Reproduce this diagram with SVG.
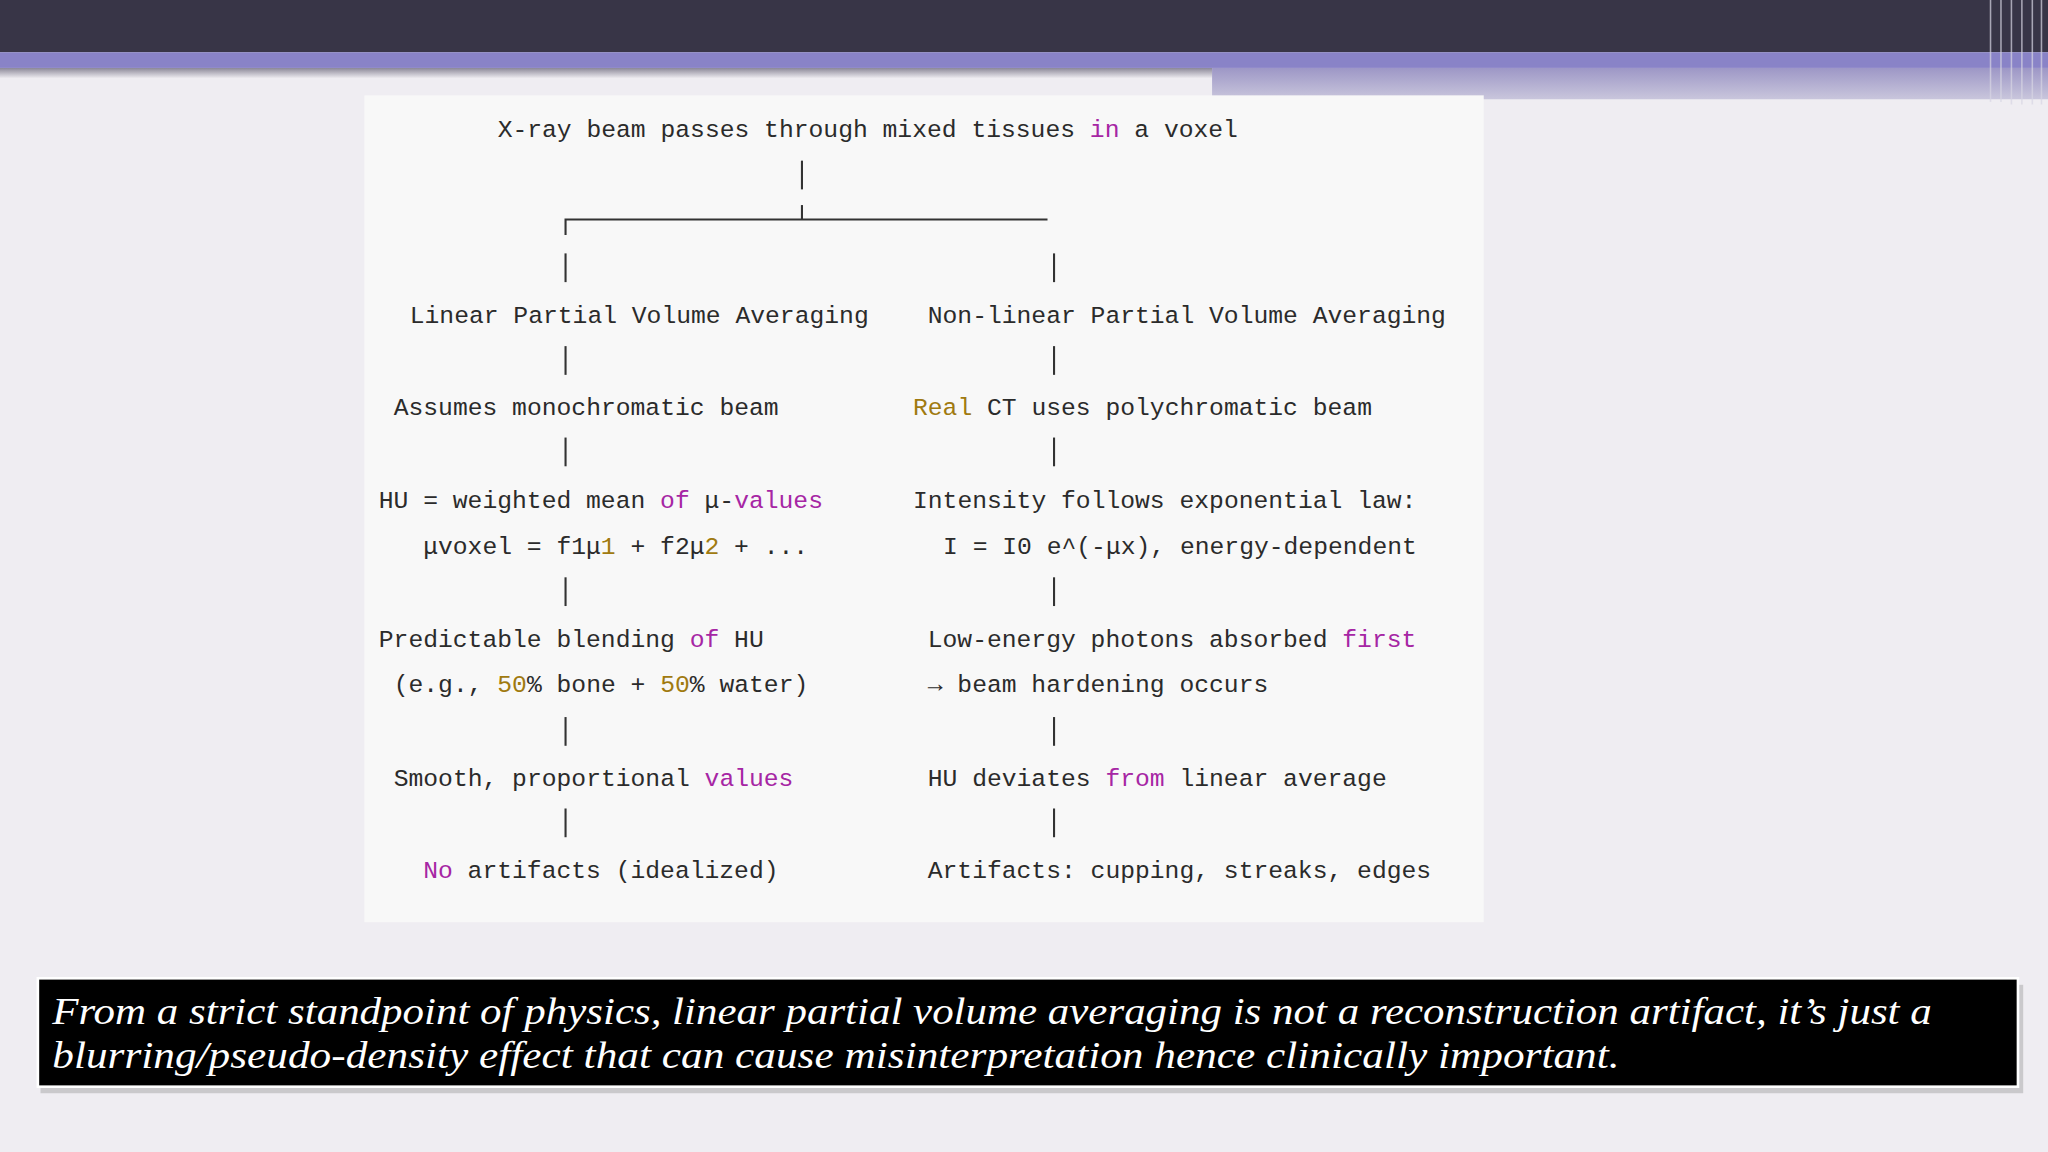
<svg xmlns="http://www.w3.org/2000/svg" width="2048" height="1152" viewBox="0 0 2048 1152">
<defs>
<style>
.m{font-family:"Liberation Mono","DejaVu Sans Mono",monospace;font-size:18.9px;fill:#2b2b2b;white-space:pre}
.p{fill:#a626a4}.g{fill:#a07a10}
.c{stroke:#333;stroke-width:1.6;fill:none}
.cap{font-family:"Liberation Serif",serif;font-style:italic;font-size:29px;fill:#fff}
</style>
<linearGradient id="fade" x1="0" y1="0" x2="0" y2="1"><stop offset="0" stop-color="#9d97c6"/><stop offset="1" stop-color="#c9c6dc"/></linearGradient>
<linearGradient id="sh" x1="0" y1="0" x2="0" y2="1"><stop offset="0" stop-color="#8a8797"/><stop offset="1" stop-color="#efedf2"/></linearGradient>
</defs>
<g transform="scale(1.30612)">
<rect width="1568" height="882" fill="#efedf2"/>
<rect width="1568" height="40" fill="#383547"/>
<rect x="0" y="52" width="928" height="8" fill="url(#sh)"/>
<rect x="928" y="52" width="640" height="24" fill="url(#fade)"/>
<rect x="0" y="40" width="1568" height="12" fill="#8983c7"/>
<g stroke="#d8d6e4" stroke-width="1.2" opacity="0.7">
<line x1="1524" y1="0" x2="1524" y2="78"/><line x1="1532" y1="0" x2="1532" y2="78"/><line x1="1540" y1="0" x2="1540" y2="80"/><line x1="1548" y1="0" x2="1548" y2="80"/><line x1="1556" y1="0" x2="1556" y2="80"/><line x1="1563" y1="0" x2="1563" y2="80"/>
</g>
<rect x="279" y="73" width="857" height="633" fill="#f8f8f8"/>
<g id="connectors">
<line class="c" x1="614" y1="123" x2="614" y2="145"/>
<line class="c" x1="614" y1="157" x2="614" y2="168"/>
<path class="c" d="M433 180 V168 H802"/>
<line class="c" x1="433" y1="194" x2="433" y2="216"/>
<line class="c" x1="807" y1="194" x2="807" y2="216"/>
<line class="c" x1="433" y1="265" x2="433" y2="287"/>
<line class="c" x1="807" y1="265" x2="807" y2="287"/>
<line class="c" x1="433" y1="335" x2="433" y2="357"/>
<line class="c" x1="807" y1="335" x2="807" y2="357"/>
<line class="c" x1="433" y1="442" x2="433" y2="464"/>
<line class="c" x1="807" y1="442" x2="807" y2="464"/>
<line class="c" x1="433" y1="549" x2="433" y2="571"/>
<line class="c" x1="807" y1="549" x2="807" y2="571"/>
<line class="c" x1="433" y1="619" x2="433" y2="641"/>
<line class="c" x1="807" y1="619" x2="807" y2="641"/>
</g>
<g id="root"><text class="m" x="381" y="105">X-ray beam passes through mixed tissues <tspan class="p">in</tspan> a voxel</text></g>
<g id="left">
<text class="m" x="313.7" y="247">Linear Partial Volume Averaging</text>
<text class="m" x="301.4" y="318">Assumes monochromatic beam</text>
<text class="m" x="290" y="389">HU = weighted mean <tspan class="p">of</tspan> μ-<tspan class="p">values</tspan></text>
<text class="m" x="324" y="424">μvoxel = f1μ<tspan class="g">1</tspan> + f2μ<tspan class="g">2</tspan> + ...</text>
<text class="m" x="290" y="495">Predictable blending <tspan class="p">of</tspan> HU</text>
<text class="m" x="301.4" y="530">(e.g., <tspan class="g">50</tspan>% bone + <tspan class="g">50</tspan>% water)</text>
<text class="m" x="301.4" y="602">Smooth, proportional <tspan class="p">values</tspan></text>
<text class="m" x="324" y="672"><tspan class="p">No</tspan> artifacts (idealized)</text>
</g>
<g id="right">
<text class="m" x="710.3" y="247">Non-linear Partial Volume Averaging</text>
<text class="m" x="699" y="318"><tspan class="g">Real</tspan> CT uses polychromatic beam</text>
<text class="m" x="699" y="389">Intensity follows exponential law:</text>
<text class="m" x="722" y="424">I = I0 e^(-μx), energy-dependent</text>
<text class="m" x="710.3" y="495">Low-energy photons absorbed <tspan class="p">first</tspan></text>
<text class="m" x="710.3" y="530">→ beam hardening occurs</text>
<text class="m" x="710.3" y="602">HU deviates <tspan class="p">from</tspan> linear average</text>
<text class="m" x="710.3" y="672">Artifacts: cupping, streaks, edges</text>
</g>
<g id="caption">
<rect x="28" y="751" width="1518" height="83" fill="#888" opacity="0.35" transform="translate(3,3)"/>
<rect x="29" y="749" width="1516" height="83" fill="#000" stroke="#fff" stroke-width="2"/>
<text class="cap" x="40" y="784" textLength="1439" lengthAdjust="spacingAndGlyphs">From a strict standpoint of physics, linear partial volume averaging is not a reconstruction artifact, it’s just a</text>
<text class="cap" x="40" y="818" textLength="1200" lengthAdjust="spacingAndGlyphs">blurring/pseudo-density effect that can cause misinterpretation hence clinically important.</text>
</g>
</g>
</svg>
